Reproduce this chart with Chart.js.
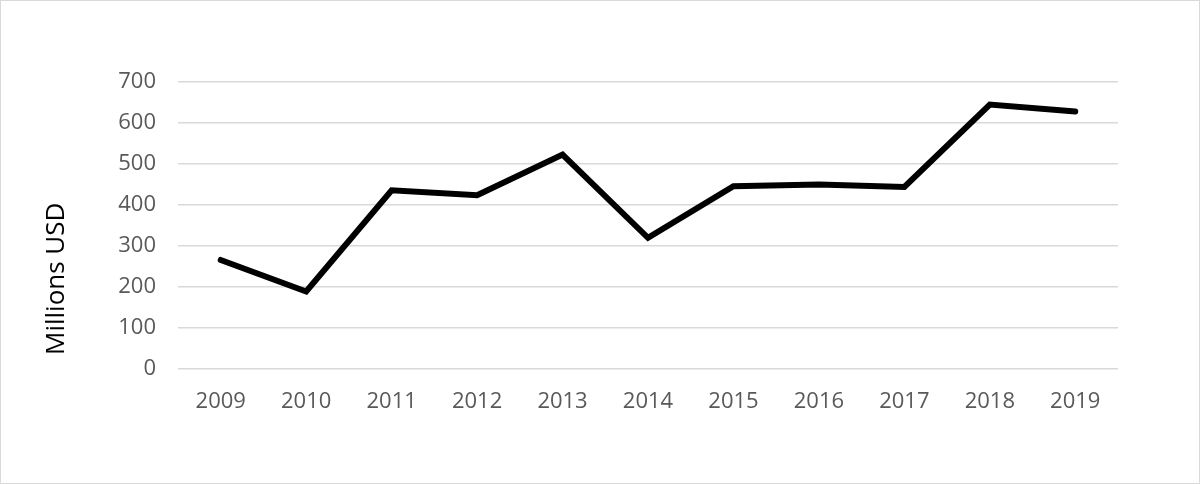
<!DOCTYPE html>
<html>
<head>
<meta charset="utf-8">
<script src="https://cdn.jsdelivr.net/npm/chart.js@4"></script>
<style>
  html, body { margin: 0; padding: 0; background: #fff; }
  #wrap { width: 1198px; height: 482px; border: 1px solid #d9d9d9; position: relative; }
</style>
</head>
<body>
<div id="wrap"><canvas id="chart"></canvas></div>
<script>
const years = ['2009', '2010', '2011', '2012', '2013', '2014', '2015', '2016', '2017', '2018', '2019'];
const values = [266, 189, 436, 424, 523, 320, 446, 450, 444, 645, 628];
const yTicks = [0, 100, 200, 300, 400, 500, 600, 700];
const yTitle = 'Millions USD';

// axis title drawn by hand so it can sit where the original has it
const yTitlePlugin = {
    id: 'yTitle',
    afterDraw(chart) {
        const c = chart.ctx;
        const y = chart.scales.y;
        c.save();
        c.translate(56, y.bottom - 14);
        c.rotate(-Math.PI / 2);
        c.font = '26px "Open Sans"';
        c.fillStyle = '#000000';
        c.textAlign = 'left';
        c.textBaseline = 'middle';
        c.fillText(yTitle, 0, 0);
        c.restore();
    }
};

const ctx = document.getElementById('chart').getContext('2d');
const chart = new Chart(ctx, {
    type: 'line',
    data: {
        labels: years,
        datasets: [{
            label: yTitle,
            data: values,
            borderColor: '#000000',
            borderWidth: 6,
            borderJoinStyle: 'miter',
            borderCapStyle: 'round',
            pointRadius: 0,
            tension: 0,
            fill: false
        }]
    },
    options: {
        responsive: true,
        maintainAspectRatio: false,
        animation: false,
        layout: { padding: { left: 0, top: 81, right: 81, bottom: 0 } },
        plugins: { legend: { display: false }, tooltip: { enabled: false } },
        scales: {
            x: {
                offset: true,
                grid: { display: false, drawTicks: false },
                border: { display: false },
                ticks: { color: '#595959', font: { family: 'Open Sans', size: 22 }, padding: 20, maxRotation: 0 },
                afterFit: function(scale) { scale.height = 114; }
            },
            y: {
                min: yTicks[0],
                max: yTicks[yTicks.length - 1],
                afterBuildTicks: function(scale) { scale.ticks = yTicks.map(v => ({ value: v })); },
                grid: { color: '#d9d9d9', lineWidth: 1.5, drawTicks: false },
                border: { display: false },
                ticks: { color: '#595959', font: { family: 'Open Sans', size: 22 }, padding: 22 },
                afterFit: function(scale) { scale.width = 177; }
            }
        }
    },
    plugins: [yTitlePlugin]
});
</script>
</body>
</html>
